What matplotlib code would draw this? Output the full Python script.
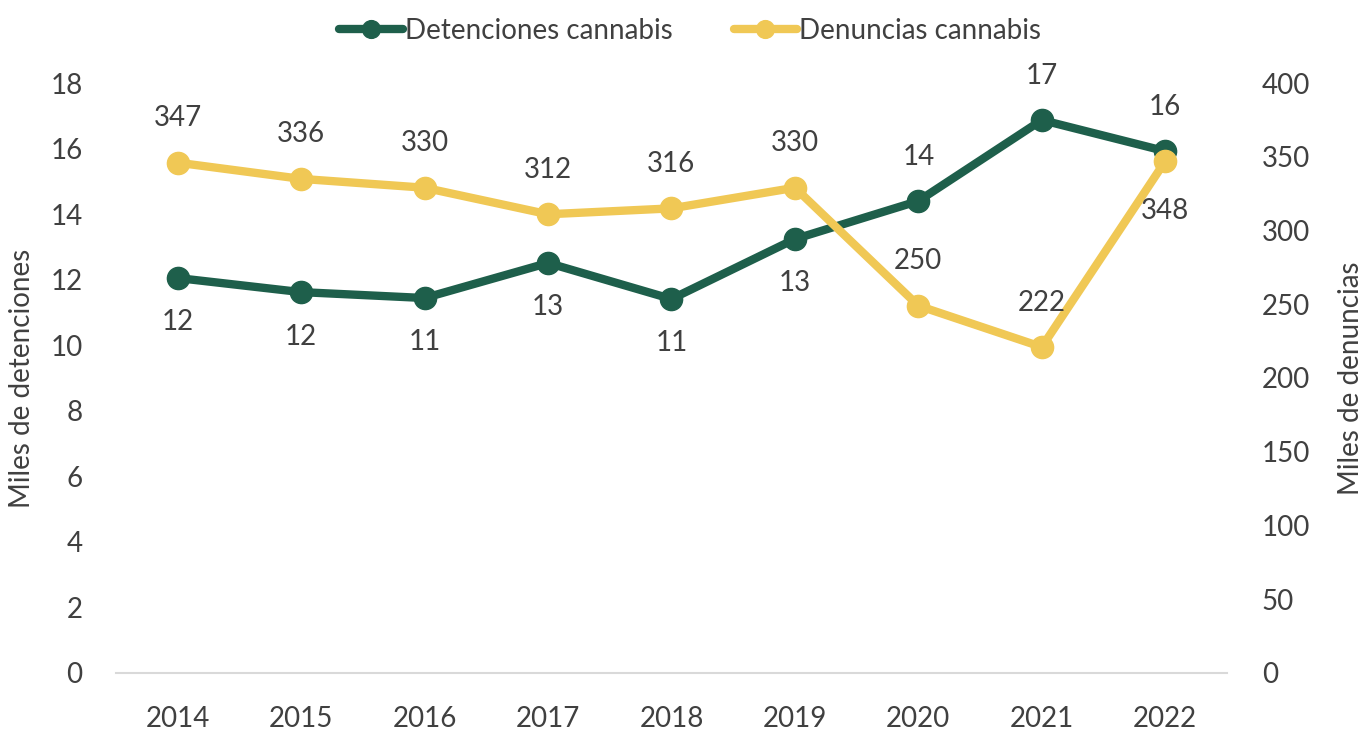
import matplotlib
matplotlib.use("Agg")
import matplotlib.pyplot as plt

plt.rcParams['font.family'] = ['Lato', 'DejaVu Sans']

# data
years = ['2014', '2015', '2016', '2017', '2018', '2019', '2020', '2021', '2022']
detenciones = [12.05, 11.62, 11.44, 12.51, 11.41, 13.24, 14.4, 16.87, 15.92]
det_labels = ['12', '12', '11', '13', '11', '13', '14', '17', '16']
denuncias = [346, 335, 329, 311, 315, 329, 249, 221, 347]
den_labels = ['347', '336', '330', '312', '316', '330', '250', '222', '348']

# label placement: +1 above the point, -1 below
det_side = [-1, -1, -1, -1, -1, -1, 1, 1, 1]
den_side = [1, 1, 1, 1, 1, 1, 1, 1, -1]

GREEN = '#1e5f4b'
YELLOW = '#f0c855'
TEXT = '#404040'
FS = 20

fig = plt.figure(figsize=(13.72, 7.30), dpi=100)
ax = fig.add_axes([0.0845, 0.0781, 0.8098, 0.8082])
ax2 = ax.twinx()

x = list(range(len(years)))
l1, = ax.plot(x, detenciones, color=GREEN, lw=6, marker='o', ms=16,
              solid_capstyle='round', label='Detenciones cannabis')
l2, = ax2.plot(x, denuncias, color=YELLOW, lw=6, marker='o', ms=16,
               solid_capstyle='round', label='Denuncias cannabis')

for xi, v, t, s in zip(x, detenciones, det_labels, det_side):
    ax.annotate(t, (xi, v), xytext=(0, 32 * s), textcoords='offset points',
                ha='center', va='center', fontsize=FS, color=TEXT)
for xi, v, t, s in zip(x, denuncias, den_labels, den_side):
    ax2.annotate(t, (xi, v), xytext=(0, 32 * s if s > 0 else -36),
                 textcoords='offset points',
                 ha='center', va='center', fontsize=FS, color=TEXT)

ax.set_xlim(-0.5, len(years) - 0.5)
ax.set_ylim(0, 18)
ax.set_yticks(range(0, 19, 2))
ax2.set_ylim(0, 400)
ax2.set_yticks(range(0, 401, 50))
ax.set_xticks(x)
ax.set_xticklabels(years)

for a in (ax, ax2):
    for sp in a.spines.values():
        sp.set_visible(False)
    a.tick_params(length=0, labelsize=FS, colors=TEXT)
ax.spines['bottom'].set_visible(True)
ax.spines['bottom'].set_color('#d9d9d9')
ax.spines['bottom'].set_linewidth(1.5)
ax.tick_params(axis='x', pad=24)
ax.tick_params(axis='y', pad=24)
ax2.tick_params(axis='y', pad=25)

ax.set_ylabel('Miles de detenciones', fontsize=FS, color=TEXT)
ax2.set_ylabel('Miles de denuncias', fontsize=FS, color=TEXT)
ax.yaxis.set_label_coords(-0.073, 0.5)
ax2.yaxis.set_label_coords(1.1, 0.5)

fig.legend(handles=[l1, l2], loc='center', bbox_to_anchor=(0.503, 0.958),
           ncol=2, frameon=False, fontsize=FS, labelcolor=TEXT,
           handlelength=2.3, handletextpad=0.05, columnspacing=2.2,
           markerscale=0.8)

fig.savefig('out.png', dpi=100)
